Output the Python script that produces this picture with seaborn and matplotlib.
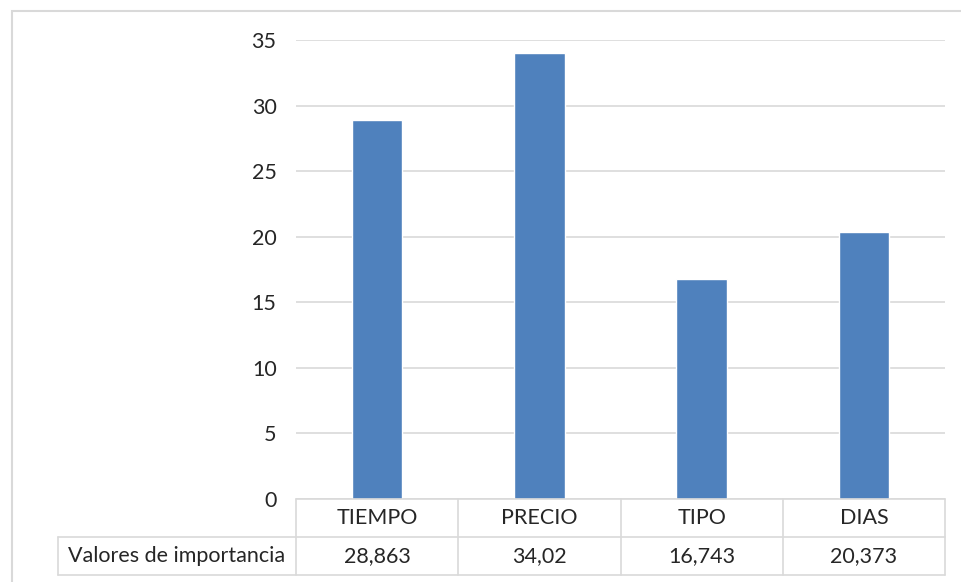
import matplotlib
matplotlib.use("Agg")
import matplotlib.pyplot as plt
import matplotlib.transforms as mtransforms
import pandas as pd
import seaborn as sns

categories = ["TIEMPO", "PRECIO", "TIPO", "DIAS"]
values = [28.863, 34.02, 16.743, 20.373]
value_labels = ["28,863", "34,02", "16,743", "20,373"]
series_name = "Valores de importancia"
y_ticks = [0, 5, 10, 15, 20, 25, 30, 35]

BAR_COLOR = "#4F81BD"
GRID_COLOR = "#D9D9D9"
TEXT_COLOR = "#262626"
FS = 15.5

sns.set_theme(style="white")
plt.rcParams["font.family"] = ["Lato", "DejaVu Sans"]

df = pd.DataFrame({"categoria": categories, "valor": values})

fig = plt.figure(figsize=(9.62, 5.82), dpi=100)

# outer chart frame
frame = plt.Rectangle((12 / 962, -0.01), 1.0, 1 - 11 / 582 + 0.01, transform=fig.transFigure,
                      fill=False, edgecolor=GRID_COLOR, lw=1.5)
fig.patches.append(frame)

ax = fig.add_axes([296 / 962, 1 - 499 / 582, 649 / 962, 459 / 582])
sns.barplot(data=df, x="categoria", y="valor", color=BAR_COLOR, width=0.31, saturation=1, ax=ax)

ax.set_ylim(0, 35)
ax.set_xlim(-0.5, len(categories) - 0.5)
ax.set_yticks(y_ticks)
ax.set_yticklabels([str(t) for t in y_ticks], fontsize=FS, color=TEXT_COLOR)
ax.yaxis.grid(True, color=GRID_COLOR, lw=1.2)
ax.set_axisbelow(True)
ax.tick_params(axis="y", length=0, pad=14)
ax.set_xticks([])
ax.set_xlabel("")
ax.set_ylabel("")
for side in ["top", "right", "left", "bottom"]:
    ax.spines[side].set_visible(False)

# data table under the plot
row_h = 38 / 459
label_left = (58 - 296) / 649
trans = mtransforms.blended_transform_factory(ax.transData, ax.transAxes)
n = len(categories)
line_kw = dict(color=GRID_COLOR, lw=1.2, clip_on=False)

ax.plot([0, 1], [0, 0], transform=ax.transAxes, **line_kw)
ax.plot([label_left, 1], [-row_h, -row_h], transform=ax.transAxes, **line_kw)
ax.plot([label_left, 1], [-2 * row_h, -2 * row_h], transform=ax.transAxes, **line_kw)
ax.plot([label_left, label_left], [-row_h, -2 * row_h], transform=ax.transAxes, **line_kw)
for b in range(n + 1):
    ax.plot([b - 0.5, b - 0.5], [0, -2 * row_h], transform=trans, **line_kw)

for i, (cat, lab) in enumerate(zip(categories, value_labels)):
    ax.text(i, -row_h / 2, cat, transform=trans, ha="center", va="center",
            fontsize=FS, color=TEXT_COLOR)
    ax.text(i, -1.5 * row_h, lab, transform=trans, ha="center", va="center",
            fontsize=FS, color=TEXT_COLOR)
ax.text(label_left / 2, -1.5 * row_h, series_name, transform=ax.transAxes,
        ha="center", va="center", fontsize=FS, color=TEXT_COLOR)

fig.savefig("out.png", dpi=100)
